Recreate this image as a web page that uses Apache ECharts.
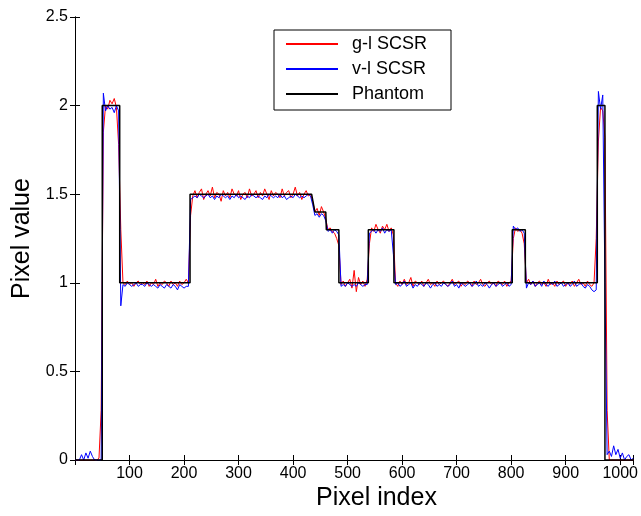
<!DOCTYPE html>
<html>
<head>
<meta charset="utf-8">
<script src="https://cdn.jsdelivr.net/npm/echarts@6/dist/echarts.min.js"></script>
<style>
  html, body { margin: 0; padding: 0; background: #fff; }
  #chart { width: 641px; height: 516px; }
</style>
</head>
<body>
<div id="chart"></div>
<script>
// sample spacing of the two reconstructions (pixel index)
const STEP = 4;

// g-l SCSR, one value every STEP pixels from 0 to 1024
const redY = [
  0, 0, 0, 0, 0, 0, 0, 0, 0, 0, 0, 0.01,            // 0-44
  0.28,                                              // 48
  1.85, 2.00, 1.98, 2.03, 2.01, 2.04, 1.99, 1.78,    // 52-80
  1.30,                                              // 84
  1.00, 0.99, 1.01, 0.99, 1.00, 0.98, 1.00, 1.01, 0.99, 1.00,
  0.99, 1.01, 0.98, 1.00, 0.99, 1.02, 0.98, 1.00, 0.99, 1.01,
  1.00, 0.98, 1.01, 0.99, 1.00, 0.98, 1.01, 0.99, 1.00, 1.02,
  1.00,                                              // 88-208
  1.38,                                              // 212
  1.49, 1.52, 1.48, 1.51, 1.53, 1.47, 1.50, 1.52, 1.49, 1.54,
  1.48, 1.51, 1.50, 1.46, 1.52, 1.49, 1.51, 1.48, 1.53, 1.50,
  1.49, 1.52, 1.47, 1.50, 1.51, 1.48, 1.53, 1.49, 1.50, 1.52,
  1.48, 1.51, 1.49, 1.53, 1.50, 1.47, 1.52, 1.49, 1.51, 1.50,
  1.48, 1.53, 1.49, 1.51, 1.52, 1.48, 1.50, 1.54, 1.49, 1.51,
  1.47, 1.50, 1.52, 1.49, 1.50,                      // 216-432
  1.46,                                              // 436
  1.40, 1.42, 1.38, 1.43, 1.40,                      // 440-456
  1.36,                                              // 460
  1.30, 1.31, 1.29, 1.28, 1.25,                      // 464-480
  1.21,                                              // 484
  0.99, 1.01, 0.98, 1.00, 1.02, 0.97, 1.07, 0.95, 1.03, 0.99,
  1.01, 0.98, 1.02,                                  // 488-536
  1.22,                                              // 540
  1.31, 1.29, 1.33, 1.30, 1.28, 1.32, 1.30, 1.33, 1.29, 1.31, // 544-580
  1.27,                                              // 584
  1.00, 0.98, 1.01, 0.99, 1.02, 0.99, 1.00, 1.03, 0.98, 1.01,
  1.00, 0.99, 1.01, 0.98, 1.00, 1.02, 0.99, 1.00, 0.98, 1.01,
  0.99, 1.00, 1.01, 0.99, 0.98, 1.00, 1.02, 0.99, 1.00, 1.01,
  0.98, 1.00, 0.99, 1.01, 1.00, 0.98, 1.01, 0.99, 1.00, 1.02,
  0.99, 0.98, 1.00, 1.01, 0.99, 1.00, 0.98, 1.01, 1.00, 0.99,
  1.01, 0.98, 1.00, 1.01,                            // 588-800
  1.25,                                              // 804
  1.31, 1.29, 1.30, 1.28,                            // 808-820
  1.22,                                              // 824
  1.00, 1.02, 0.99, 1.01, 0.98, 1.00, 1.01, 0.99, 1.00, 0.98,
  1.02, 0.99, 1.00, 0.98, 1.01, 0.99, 1.00, 1.01, 0.98, 1.00,
  0.99, 1.01, 0.98, 1.00, 1.02, 0.99, 1.00, 0.98, 1.01, 0.99,
  0.98, 1.00,                                        // 828-952
  1.25,                                              // 956
  1.80,                                              // 960
  1.99, 1.97,                                        // 964-968
  1.82,                                              // 972
  0.28,                                              // 976
  0, 0, 0, 0, 0, 0, 0, 0, 0, 0, 0, 0                 // 980-1024
];

// v-l SCSR
const blueY = [
  0, 0, 0, 0.03, 0.00, 0.04, 0.01, 0.05, 0.02, 0.00, 0, 0,  // 0-44
  0.00,                                              // 48
  2.07, 1.97, 2.00, 1.98, 1.99, 1.96, 2.00, 1.97,    // 52-80
  0.87,                                              // 84
  0.99, 0.98, 1.00, 0.99, 0.98, 0.99, 1.00, 0.98, 0.99, 0.99,
  0.98, 1.00, 0.99, 0.98, 0.99, 0.98, 0.97, 0.99, 0.98, 0.97,
  0.99, 0.98, 0.97, 0.99, 0.98, 0.96, 0.99, 0.98, 0.97, 0.98,
  0.98,                                              // 88-208
  1.47,                                              // 212
  1.48, 1.49, 1.48, 1.50, 1.49, 1.48, 1.49, 1.50, 1.48, 1.49,
  1.47, 1.49, 1.48, 1.50, 1.49, 1.48, 1.49, 1.47, 1.49, 1.48,
  1.50, 1.48, 1.49, 1.48, 1.47, 1.49, 1.48, 1.50, 1.49, 1.48,
  1.49, 1.48, 1.47, 1.49, 1.48, 1.50, 1.49, 1.48, 1.49, 1.48,
  1.50, 1.48, 1.49, 1.47, 1.48, 1.49, 1.48, 1.50, 1.49, 1.48,
  1.49, 1.48, 1.49, 1.50, 1.49,                      // 216-432
  1.44,                                              // 436
  1.38, 1.39, 1.37, 1.39, 1.38,                      // 440-456
  1.35,                                              // 460
  1.29, 1.30, 1.28, 1.30, 1.29,                      // 464-480
  1.27,                                              // 484
  0.98, 0.99, 0.98, 1.00, 0.99, 0.98, 0.99, 0.98, 1.00, 0.99,
  0.98, 0.99, 0.99,                                  // 488-536
  1.28,                                              // 540
  1.29, 1.30, 1.28, 1.30, 1.29, 1.31, 1.28, 1.30, 1.29, 1.30, // 544-580
  1.16,                                              // 584
  0.99, 1.00, 0.98, 0.99, 1.01, 0.98, 0.99, 1.00, 0.97, 0.99,
  0.98, 1.00, 0.99, 0.98, 1.00, 0.99, 0.97, 0.99, 1.00, 0.98,
  0.99, 0.98, 1.00, 0.99, 0.98, 0.99, 1.01, 0.98, 0.99, 0.97,
  1.00, 0.99, 0.98, 0.99, 1.00, 0.98, 0.99, 1.01, 0.98, 0.99,
  0.98, 1.00, 0.99, 0.97, 0.99, 1.00, 0.98, 0.99, 1.00, 0.98,
  0.99, 1.00, 0.98, 0.99,                            // 588-800
  1.32,                                              // 804
  1.30, 1.31, 1.29, 1.30,                            // 808-820
  1.28,                                              // 824
  0.97, 1.00, 0.99, 1.01, 0.98, 0.99, 1.00, 0.98, 1.01, 0.99,
  0.98, 1.00, 0.99, 1.01, 0.98, 0.99, 1.00, 0.98, 0.99, 1.00,
  0.98, 0.99, 1.01, 0.98, 0.99, 1.00, 0.98, 0.97, 0.99, 0.98,
  0.96, 0.95,                                        // 828-952
  0.96,                                              // 956
  2.08,                                              // 960
  1.98, 2.06,                                        // 964-968
  1.00,                                              // 972
  0.03,                                              // 976
  0.05, 0.02, 0.08, 0.03, 0.06, 0.01, 0.04, 0.00, 0.02, 0.03, 0.00, 0.01 // 980-1024
];

// phantom: piecewise constant profile, corner points
const phantomX = [0, 50, 50, 82, 82, 211, 211, 434, 440, 460, 461, 484, 484,
                  538, 538, 585, 585, 802, 802, 826, 826, 958, 958, 972, 972, 1024];
const phantomY = [0, 0, 2, 2, 1, 1, 1.5, 1.5, 1.4, 1.4, 1.3, 1.3, 1,
                  1, 1.3, 1.3, 1, 1, 1.3, 1.3, 1, 1, 2, 2, 0, 0];

const seriesNames = ['g-l SCSR', 'v-l SCSR', 'Phantom'];

const FONT = '"Liberation Sans", Arial, sans-serif';

let myChart = echarts.init(document.getElementById('chart'));

const frameAxis = {
    min: 0,
    axisLine: {show: true, lineStyle: {color: '#000', width: 1}},
    axisTick: {show: true, inside: true, length: 5, lineStyle: {color: '#000'}},
    splitLine: {show: false},
};

myChart.setOption({
    animation: false,
    backgroundColor: '#fff',
    grid: {
        left: 75,
        right: 3,
        top: 17,
        bottom: 56,
        containLabel: false
    },
    legend: {
        data: seriesNames,
        orient: 'vertical',
        left: 274,
        top: 30,
        backgroundColor: '#fff',
        borderColor: '#000',
        borderWidth: 1,
        padding: [4, 24, 6, 11],
        itemGap: 5,
        itemWidth: 52,
        itemHeight: 14,
        itemStyle: {opacity: 0},     // only the line, no marker
        textStyle: {
            fontFamily: FONT,
            fontSize: 18,
            color: '#000',
            lineHeight: 20,
            padding: [0, 0, 0, 9]
        }
    },
    xAxis: [
        Object.assign({}, frameAxis, {
            type: 'value',
            max: 1024,
            interval: 100,
            position: 'bottom',
            axisLabel: {
                color: '#000',
                fontFamily: FONT,
                fontSize: 16,
                margin: 6,
                formatter: function (v) {
                    return (v === 0 || v > 1000) ? '' : String(v);
                }
            }
        }),
        Object.assign({}, frameAxis, {
            type: 'value',
            max: 1024,
            interval: 100,
            position: 'top',
            axisLabel: {show: false}
        })
    ],
    yAxis: [
        Object.assign({}, frameAxis, {
            type: 'value',
            max: 2.5,
            interval: 0.5,
            position: 'left',
            axisLabel: {
                color: '#000',
                fontFamily: FONT,
                fontSize: 16,
                margin: 7
            }
        }),
        Object.assign({}, frameAxis, {
            type: 'value',
            max: 2.5,
            interval: 0.5,
            position: 'right',
            axisLabel: {show: false}
        })
    ],
    graphic: [
        {
            type: 'text',
            left: 316,
            top: 486,
            style: {text: 'Pixel index', font: '25px ' + FONT, fill: '#000'}
        },
        {
            type: 'text',
            x: 10,
            y: 299,
            rotation: Math.PI / 2,
            style: {text: 'Pixel value', font: '25px ' + FONT, fill: '#000'}
        }
    ],
    series: [
        {
            name: seriesNames[0],
            type: 'line',
            symbol: 'none',
            color: '#ff0000',
            lineStyle: {width: 1, color: '#ff0000'},
            data: redY.map(function (v, i) { return [i * STEP, v]; })
        },
        {
            name: seriesNames[1],
            type: 'line',
            symbol: 'none',
            color: '#0000ff',
            lineStyle: {width: 1, color: '#0000ff'},
            data: blueY.map(function (v, i) { return [i * STEP, v]; })
        },
        {
            name: seriesNames[2],
            type: 'line',
            symbol: 'none',
            color: '#000000',
            lineStyle: {width: 1.5, color: '#000000'},
            data: phantomX.map(function (x, i) { return [x, phantomY[i]]; })
        }
    ]
});
</script>
</body>
</html>
